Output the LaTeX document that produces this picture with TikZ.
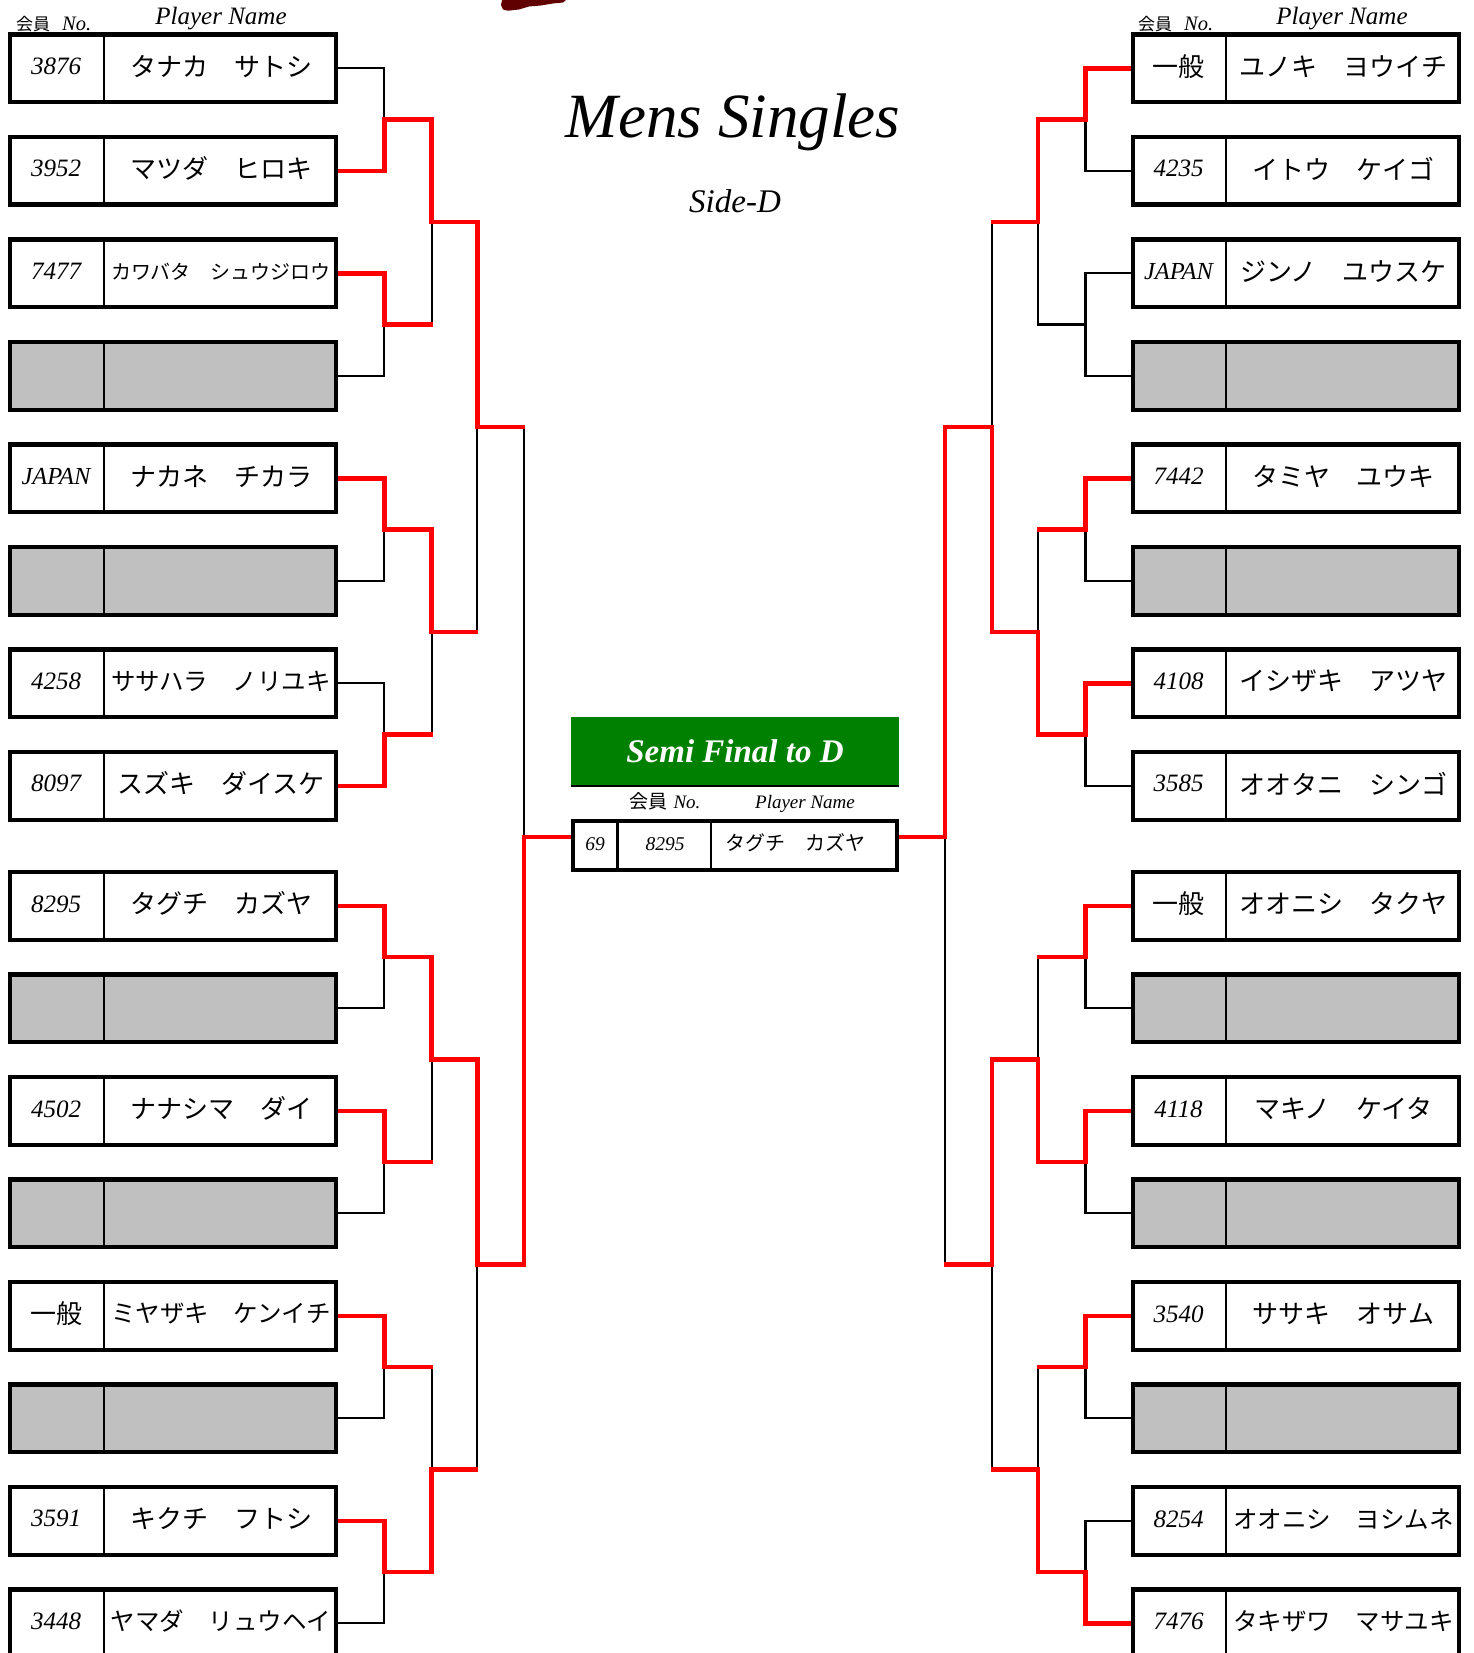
\documentclass[tikz,border=0pt]{standalone}
\usepackage{fontspec}
\setmainfont{Liberation Serif}
\newfontfamily\jp{Noto Sans CJK JP}
\definecolor{hdrgreen}{RGB}{0,128,0}
\definecolor{emptygray}{RGB}{192,192,192}
\definecolor{blotred}{RGB}{96,0,0}
\definecolor{winred}{RGB}{255,0,0}
\pgfdeclarelayer{background}
\pgfsetlayers{background,main}
\tikzset{
 pbox/.style={draw=black, line width=4.3pt, rectangle, minimum width=325.7pt, minimum height=67.7pt, inner sep=0pt},
 divider/.style={line width=2pt},
 numtxt/.style={font=\itshape\fontsize{25}{25}\selectfont, inner sep=0pt},
 lose/.style={draw=black, line width=2.2pt},
 win/.style={draw=winred, line width=4.5pt, line cap=rect},
 winh/.style={draw=winred, line width=4.5pt, shorten >=-1.1pt},
 lbl/.style={inner sep=0pt},
}
\newcommand\LRow[5]{%
 \node[pbox,fill=white] (#1) at (173.15,#2) {};
 \draw[divider] (104,{#2-33.85}) -- (104,{#2+33.85});
 \node[numtxt] (#1n) at (56,{#2-2}) {#3};
 \node[inner sep=0pt,font=\jp\fontsize{#4}{#4}\selectfont] (#1m) at (221,{#2-2}) {#5};
}
\newcommand\LGray[2]{%
 \node[pbox,fill=emptygray] (#1) at (173.15,#2) {};
 \draw[divider] (104,{#2-33.85}) -- (104,{#2+33.85});
}
\newcommand\RRow[5]{%
 \node[pbox,fill=white] (#1) at (1296,#2) {};
 \draw[divider] (1226,{#2-33.85}) -- (1226,{#2+33.85});
 \node[numtxt] (#1n) at (1178.5,{#2-2}) {#3};
 \node[inner sep=0pt,font=\jp\fontsize{#4}{#4}\selectfont] (#1m) at (1343.5,{#2-2}) {#5};
}
\newcommand\RGray[2]{%
 \node[pbox,fill=emptygray] (#1) at (1296,#2) {};
 \draw[divider] (1226,{#2-33.85}) -- (1226,{#2+33.85});
}
\newcommand\IPN{{\jp\upshape\fontsize{26}{26}\selectfont 一般}}
\newcommand\JPN{{\fontsize{24.5}{24.5}\selectfont JAPAN}}
\begin{document}
\begin{tikzpicture}[x=1pt,y=-1pt]
\useasboundingbox (0,0) rectangle (1473,1653);
\clip (0,0) rectangle (1473,1653);

% blot at top
\fill[blotred] (502,0) -- (566,0) -- (563,2.5) -- (553,3.5) -- (541,5.5) -- (529,6.5) -- (519,9.5) -- (508,10.7) -- (503,9.5) -- (501,5) -- cycle;

% titles
\node[lbl, anchor=base, font=\itshape\fontsize{63}{63}\selectfont] (title) at (733,138) {Mens Singles};
\node[lbl, anchor=base, font=\itshape\fontsize{33}{33}\selectfont] (side) at (735,213) {Side-D};

% column headers
\node[lbl, anchor=base west] (lhno) at (16,31) {{\jp\fontsize{17}{17}\selectfont 会員}\hspace{12pt}{\itshape\fontsize{20.5}{20.5}\selectfont No.}};
\node[lbl, anchor=base, font=\itshape\fontsize{25}{25}\selectfont] (lhpn) at (221,25) {Player Name};
\node[lbl, anchor=base west] (rhno) at (1138,31) {{\jp\fontsize{17}{17}\selectfont 会員}\hspace{12pt}{\itshape\fontsize{20.5}{20.5}\selectfont No.}};
\node[lbl, anchor=base, font=\itshape\fontsize{25}{25}\selectfont] (rhpn) at (1342,25) {Player Name};

% left rows
\LRow{L1}{68.3}{3876}{26}{タナカ　サトシ}
\LRow{L2}{170.8}{3952}{26}{マツダ　ヒロキ}
\LRow{L3}{273.3}{7477}{20}{カワバタ　シュウジロウ}
\LGray{L4}{375.8}
\LRow{L5}{478.3}{\JPN}{26}{ナカネ　チカラ}
\LGray{L6}{580.8}
\LRow{L7}{683.3}{4258}{24.5}{ササハラ　ノリユキ}
\LRow{L8}{785.8}{8097}{26}{スズキ　ダイスケ}
\LRow{L9}{905.8}{8295}{26}{タグチ　カズヤ}
\LGray{L10}{1008.3}
\LRow{L11}{1110.8}{4502}{26}{ナナシマ　ダイ}
\LGray{L12}{1213.3}
\LRow{L13}{1315.8}{\IPN}{24.5}{ミヤザキ　ケンイチ}
\LGray{L14}{1418.3}
\LRow{L15}{1520.8}{3591}{26}{キクチ　フトシ}
\LRow{L16}{1623.3}{3448}{24.5}{ヤマダ　リュウヘイ}

% right rows
\RRow{R1}{68.3}{\IPN}{26}{ユノキ　ヨウイチ}
\RRow{R2}{170.8}{4235}{26}{イトウ　ケイゴ}
\RRow{R3}{273.3}{\JPN}{26}{ジンノ　ユウスケ}
\RGray{R4}{375.8}
\RRow{R5}{478.3}{7442}{26}{タミヤ　ユウキ}
\RGray{R6}{580.8}
\RRow{R7}{683.3}{4108}{26}{イシザキ　アツヤ}
\RRow{R8}{785.8}{3585}{26}{オオタニ　シンゴ}
\RRow{R9}{905.8}{\IPN}{26}{オオニシ　タクヤ}
\RGray{R10}{1008.3}
\RRow{R11}{1110.8}{4118}{26}{マキノ　ケイタ}
\RGray{R12}{1213.3}
\RRow{R13}{1315.8}{3540}{26}{ササキ　オサム}
\RGray{R14}{1418.3}
\RRow{R15}{1520.8}{8254}{24.5}{オオニシ　ヨシムネ}
\RRow{R16}{1623.3}{7476}{24.5}{タキザワ　マサユキ}

% semi final block
\node[fill=hdrgreen, minimum width=328pt, minimum height=68.3pt, inner sep=0pt, outer sep=0pt, text=white, font=\bfseries\itshape\fontsize{33}{33}\selectfont] (semihdr) at (735,750.85) {Semi Final to D};
\draw[line width=2pt] ([yshift=-1pt]semihdr.south west) -- ([yshift=-1pt]semihdr.south east);
\node[lbl, anchor=base] (shno) at (665,808) {{\jp\fontsize{19}{19}\selectfont 会員}\hspace{6pt}{\itshape\fontsize{19}{19}\selectfont No.}};
\node[lbl, anchor=base, font=\itshape\fontsize{19}{19}\selectfont] (shpn) at (805,808) {Player Name};
\node[pbox, fill=white, minimum width=324pt, minimum height=48.7pt] (semi) at (735,845.5) {};
\draw[line width=2.5pt] (617.7,821) -- (617.7,870);
\draw[line width=2.5pt] (711,821) -- (711,870);
\node[numtxt, font=\itshape\fontsize{19.5}{19.5}\selectfont] (semiseed) at (595,844) {69};
\node[numtxt, font=\itshape\fontsize{19.5}{19.5}\selectfont] (semino) at (665,844) {8295};
\node[inner sep=0pt, font=\jp\fontsize{20}{20}\selectfont] (seminame) at (795.5,843) {タグチ　カズヤ};

% joints
\coordinate (La1) at (384.3,119.55); \coordinate (La2) at (384.3,324.55);
\coordinate (La3) at (384.3,529.55); \coordinate (La4) at (384.3,734.55);
\coordinate (La5) at (384.3,957.05); \coordinate (La6) at (384.3,1162.05);
\coordinate (La7) at (384.3,1367.05); \coordinate (La8) at (384.3,1572.05);
\coordinate (Lb1) at (431.7,222.05); \coordinate (Lb2) at (431.7,632.05);
\coordinate (Lb3) at (431.7,1059.55); \coordinate (Lb4) at (431.7,1469.55);
\coordinate (Lc1) at (477.3,427.05); \coordinate (Lc2) at (477.3,1264.55);
\coordinate (Ld) at (524,837);
\coordinate (Ra1) at (1085.5,119.55); \coordinate (Ra2) at (1085.5,324.55);
\coordinate (Ra3) at (1085.5,529.55); \coordinate (Ra4) at (1085.5,734.55);
\coordinate (Ra5) at (1085.5,957.05); \coordinate (Ra6) at (1085.5,1162.05);
\coordinate (Ra7) at (1085.5,1367.05); \coordinate (Ra8) at (1085.5,1572.05);
\coordinate (Rb1) at (1038,222.05); \coordinate (Rb2) at (1038,632.05);
\coordinate (Rb3) at (1038,1059.55); \coordinate (Rb4) at (1038,1469.55);
\coordinate (Rc1) at (992,427.05); \coordinate (Rc2) at (992,1264.55);
\coordinate (Rd) at (945,837);

\begin{pgfonlayer}{background}
% ---- left, black
\draw[lose] (L1.east) -| (La1);
\draw[lose] (L4.east) -| (La2);
\draw[lose] (L6.east) -| (La3);
\draw[lose] (L7.east) -| (La4);
\draw[lose] (L10.east) -| (La5);
\draw[lose] (L12.east) -| (La6);
\draw[lose] (L14.east) -| (La7);
\draw[lose] (L16.east) -| (La8);
\draw[lose] (La2) -| (Lb1);
\draw[lose] (La4) -| (Lb2);
\draw[lose] (La6) -| (Lb3);
\draw[lose] (La7) -| (Lb4);
\draw[lose] (Lb2) -| (Lc1);
\draw[lose] (Lb4) -| (Lc2);
\draw[lose] (Lc1) -| (Ld);
% ---- right, black
\draw[lose] (R2.west) -| (Ra1);
\draw[lose] (R3.west) -| (Ra2);
\draw[lose] (R4.west) -| (Ra2);
\draw[lose] (R6.west) -| (Ra3);
\draw[lose] (R8.west) -| (Ra4);
\draw[lose] (R10.west) -| (Ra5);
\draw[lose] (R12.west) -| (Ra6);
\draw[lose] (R14.west) -| (Ra7);
\draw[lose] (R15.west) -| (Ra8);
\draw[lose] (Ra2) -| (Rb1);
\draw[lose] (Ra3) -| (Rb2);
\draw[lose] (Ra5) -| (Rb3);
\draw[lose] (Ra7) -| (Rb4);
\draw[lose] (Rb1) -| (Rc1);
\draw[lose] (Rb4) -| (Rc2);
\draw[lose] (Rc2) -| (Rd);
% ---- left, red
\draw[win] (L2.east) -| (La1);
\draw[win] (L3.east) -| (La2);
\draw[win] (L5.east) -| (La3);
\draw[win] (L8.east) -| (La4);
\draw[win] (L9.east) -| (La5);
\draw[win] (L11.east) -| (La6);
\draw[win] (L13.east) -| (La7);
\draw[win] (L15.east) -| (La8);
\draw[win] (La1) -| (Lb1);
\draw[winh] (La2) -- (La2 -| Lb1);
\draw[win] (La3) -| (Lb2);
\draw[winh] (La4) -- (La4 -| Lb2);
\draw[win] (La5) -| (Lb3);
\draw[winh] (La6) -- (La6 -| Lb3);
\draw[winh] (La7) -- (La7 -| Lb4);
\draw[win] (La8) -| (Lb4);
\draw[win] (Lb1) -| (Lc1);
\draw[winh] (Lb2) -- (Lb2 -| Lc1);
\draw[win] (Lb3) -| (Lc2);
\draw[winh] (Lb4) -- (Lb4 -| Lc2);
\draw[winh] (Lc1) -- (Lc1 -| Ld);
\draw[win] (Lc2) -| (Ld);
\draw[win] (Ld) -- (Ld -| semi.west);
% ---- right, red
\draw[win] (R1.west) -| (Ra1);
\draw[win] (R5.west) -| (Ra3);
\draw[win] (R7.west) -| (Ra4);
\draw[win] (R9.west) -| (Ra5);
\draw[win] (R11.west) -| (Ra6);
\draw[win] (R13.west) -| (Ra7);
\draw[win] (R16.west) -| (Ra8);
\draw[win] (Ra1) -| (Rb1);
\draw[winh] (Ra3) -- (Ra3 -| Rb2);
\draw[win] (Ra4) -| (Rb2);
\draw[winh] (Ra5) -- (Ra5 -| Rb3);
\draw[win] (Ra6) -| (Rb3);
\draw[winh] (Ra7) -- (Ra7 -| Rb4);
\draw[win] (Ra8) -| (Rb4);
\draw[winh] (Rb1) -- (Rb1 -| Rc1);
\draw[win] (Rb2) -| (Rc1);
\draw[win] (Rb3) -| (Rc2);
\draw[winh] (Rb4) -- (Rb4 -| Rc2);
\draw[win] (Rc1) -| (Rd);
\draw[winh] (Rc2) -- (Rc2 -| Rd);
\draw[win] (Rd) -- (Rd -| semi.east);
\end{pgfonlayer}
\end{tikzpicture}
\end{document}
